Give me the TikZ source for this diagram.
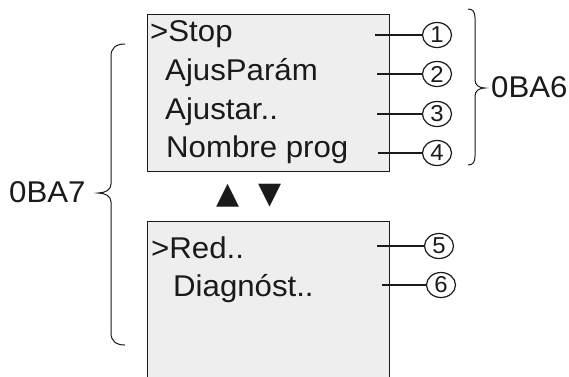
\documentclass[tikz,border=0pt]{standalone}
\usepackage{fontspec}
\setmainfont{Liberation Sans}[FakeStretch=1.04]
\newfontfamily\symfont{DejaVu Sans}
\usetikzlibrary{shapes.geometric}
\definecolor{ink}{HTML}{1A1A1A}
\definecolor{screenfill}{HTML}{EEEEEE}
\begin{document}
\begin{tikzpicture}[x=1pt,y=-1pt,
  screen/.style={draw=ink, fill=screenfill, line width=1.1pt, anchor=north west, minimum width=242pt, inner sep=0},
  menutext/.style={anchor=base west, inner sep=0, text=ink, font=\fontsize{30}{30}\selectfont},
  callout/.style={ellipse, draw=ink, line width=1.2pt, inner sep=0, minimum width=29pt, minimum height=25pt, text=ink, font=\fontsize{23}{23}\selectfont},
  leader/.style={draw=ink, line width=1.1pt},
  bracepath/.style={draw=ink, line width=1pt},
  label/.style={anchor=base west, inner sep=0, text=ink, font=\fontsize{30}{30}\selectfont},
  arrowsym/.style={inner sep=0, text=ink, font=\symfont\fontsize{30}{30}\selectfont}]
\useasboundingbox (0,0) rectangle (569,376);
\clip (0,0) rectangle (569,376);
\fill[white] (0,0) rectangle (569,376);

% screens
\node[screen, minimum height=157pt] (top) at (147,14) {};
\node[screen, minimum height=200pt] (bottom) at (147,221) {};

% menu texts
\node[menutext] (t1) at (150,41) {>Stop};
\node[menutext] (t2) at (165,80) {AjusParám};
\node[menutext] (t3) at (165,119) {Ajustar..};
\node[menutext] (t4) at (166,157.5) {Nombre prog};
\node[menutext] (t5) at (151,258) {>Red..};
\node[menutext] (t6) at (173,296) {Diagnóst..};

% callouts
\node[callout] (c1) at (437,35) {1};
\node[callout] (c2) at (437,74) {2};
\node[callout] (c3) at (437,114) {3};
\node[callout] (c4) at (437,153) {4};
\node[callout] (c5) at (439,246) {5};
\node[callout] (c6) at (441,285) {6};

\coordinate (l1) at (375,35);
\coordinate (l2) at (377,74);
\coordinate (l3) at (377,114);
\coordinate (l4) at (378,153);
\coordinate (l5) at (377,246);
\coordinate (l6) at (382,285);
\draw[leader] (l1) -- (c1);
\draw[leader] (l2) -- (c2);
\draw[leader] (l3) -- (c3);
\draw[leader] (l4) -- (c4);
\draw[leader] (l5) -- (c5);
\draw[leader] (l6) -- (c6);

% navigation arrows
\node[arrowsym] (up) at (228,196) {▲};
\node[arrowsym] (down) at (270,196) {▼};

% braces
\draw[bracepath] (468,9) .. controls (473,9) and (475,12) .. (475,18) -- (475,80)
  .. controls (475,85) and (479,88) .. (485,88)
  .. controls (479,88) and (475,91) .. (475,96) -- (475,156)
  .. controls (475,162) and (473,165) .. (468,165);
\draw[bracepath] (125,44) .. controls (116,44) and (111,48) .. (111,56) -- (111,184)
  .. controls (111,190) and (105,193) .. (98,193)
  .. controls (105,193) and (111,196) .. (111,202) -- (111,333)
  .. controls (111,341) and (116,345) .. (125,345);

% labels
\node[label] (ba6) at (491,97) {0BA6};
\node[label] (ba7) at (9,202) {0BA7};
\end{tikzpicture}
\end{document}
